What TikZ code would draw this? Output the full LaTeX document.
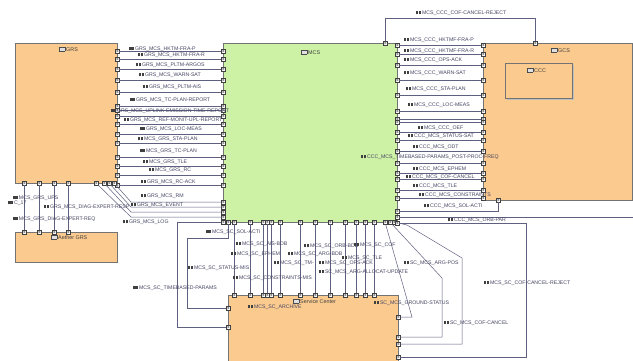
\documentclass[tikz,border=0pt]{standalone}
\usepackage{fontspec}
\setmainfont{Liberation Sans}
\definecolor{org}{RGB}{250,202,142}
\definecolor{grn}{RGB}{205,241,165}
\definecolor{cn}{RGB}{95,95,128}
\definecolor{lt}{RGB}{70,70,100}
\newcommand\ico{{\color{black!75}\rule{2.5pt}{3.6pt}\hspace{0.4pt}\rule{2.5pt}{3.6pt}}\hspace{1pt}}
\newcommand\tico{{\setlength\fboxsep{0pt}\setlength\fboxrule{0.4pt}\fcolorbox{black!70}{black!12}{\rule{0pt}{4.2pt}\hspace{5.5pt}}}\hspace{1.2pt}}
\tikzset{
  conn/.style={draw=cn, line width=0.5pt},
  port/.style={draw=black!75, fill=white, line width=0.35pt, minimum size=4.4pt, inner sep=0pt, outer sep=0pt,
    path picture={\draw[black!75, line width=0.3pt] ([xshift=1pt,yshift=0.9pt]path picture bounding box.south west) -- ([xshift=-1pt]path picture bounding box.east) -- ([xshift=1pt,yshift=-0.9pt]path picture bounding box.north west);}},
  lab/.style={font=\fontsize{5.2}{5.5}\selectfont, text=lt, inner sep=0.4pt, anchor=west},
  blk/.style={draw=black!55, line width=0.5pt},
  ttl/.style={font=\fontsize{5.4}{6}\selectfont, text=black!75, inner sep=0.5pt, anchor=west}
}
% horizontal connector with two ports: name, x1, x2, y
\newcommand\hc[4]{\node[port] (#1a) at (#2,#4) {};\node[port] (#1b) at (#3,#4) {};\draw[conn] (#1a) -- (#1b);}
% vertical connector: name, x, y1, y2
\newcommand\vc[4]{\node[port] (#1a) at (#2,#3) {};\node[port] (#1b) at (#2,#4) {};\draw[conn] (#1a) -- (#1b);}
\newcommand\lb[4]{\node[lab] (#1) at (#2,#3) {\ico #4};}
\begin{document}
\begin{tikzpicture}[x=1pt,y=-1pt]
\useasboundingbox[fill=white] (0,0) rectangle (633,360);
% blocks
\fill[org] (15,43) rectangle (117,183); \draw[blk] (15,43) rectangle (117,183);
\node[ttl] (tGRS) at (58,49) {\tico GRS};
\fill[org] (15,232) rectangle (117,262); \draw[blk] (15,232) rectangle (117,262);
\node[ttl] (tAGRS) at (50,237) {\tico Aether GRS};
\fill[grn] (223,43) rectangle (397,222); \draw[blk] (223,43) rectangle (397,222);
\node[ttl] (tMCS) at (300,52) {\tico MCS};
\fill[org] (483,43) rectangle (632,200); \draw[blk] (483,43) rectangle (632,200);
\node[ttl] (tGCS) at (550,50) {\tico GCS};
\fill[black!25] (507,65) rectangle (574,100);
\fill[org] (505,63) rectangle (572,98); \draw[blk] (505,63) rectangle (572,98);
\node[ttl] (tCCC) at (526,70) {\tico CCC};
\fill[org] (228,295) rectangle (398,361); \draw[blk] (228,361) -- (228,295) -- (398,295) -- (398,361);
\node[ttl] (tSC) at (292,301) {\tico Service Center};

% GRS -> MCS horizontal connectors
\foreach \n/\y in {g1/51,g2/59,g3/69,g4/80,g5/92,g6/106,g7/110,g8/116,g9/124,g10/134,g11/143,g12/157,g13/166,g14/175,g15/185}{
  \hc{\n}{117}{223}{\y}
}
% diagonal connectors from GRS bottom
\node[port] (d1a) at (114,183) {}; \node[port] (d1b) at (223,202) {};
\draw[conn] (d1a) -- (131,202) -- (d1b);
\node[port] (d2a) at (109,183) {}; \node[port] (d2b) at (223,207) {};
\draw[conn] (d2a) -- (131,207) -- (d2b);
\node[port] (d3a) at (104,183) {}; \node[port] (d3b) at (223,212) {};
\draw[conn] (d3a) -- (131,212) -- (d3b);
\node[port] (d4a) at (96,183) {}; \node[port] (d4b) at (223,217) {};
\draw[conn] (d4a) -- (131,217) -- (d4b);
% GRS -> Aether GRS
\foreach \n/\x in {a1/24,a2/39,a3/54,a4/68}{
  \vc{\n}{\x}{183}{232}
}
% MCS -> GCS horizontal connectors
\foreach \n/\y in {c1/45,c2/54,c3/65,c4/80,c5/95,c6/111,c7/119,c8/122,c9/132,c10/140,c11/151,c12/163,c13/173,c14/179,c15/190,c16/198}{
  \hc{\n}{397}{483}{\y}
}
\node[port] (s1a) at (397,211) {}; \node[port] (s1b) at (498,200) {};
\draw[conn] (s1a) -- (498,211) -- (s1b);
\coordinate (s2e) at (633,217);
\node[port] (s2a) at (397,217) {};
\draw[conn] (s2a) -- (s2e);
% top connector MCS -> GCS
\node[port] (tpa) at (385,43) {}; \node[port] (tpb) at (535,43) {};
\draw[conn] (tpa) -- (385,18) -- (535,18) -- (tpb);
% MCS -> Service Center verticals
\foreach \n/\x in {v1/234,v2/250,v3/263,v4/267,v5/271,v6/280,v7/300,v8/315,v9/330,v10/345,v11/356,v12/365,v13/374}{
  \vc{\n}{\x}{222}{295}
}
% left routes to Service Center
\node[port] (tba) at (223,222) {}; \node[port] (tbb) at (228,327) {};
\draw[conn] (tba) -- (177,222) -- (177,327) -- (tbb);
\node[port] (sma) at (228,222) {}; \node[port] (smb) at (228,308) {};
\draw[conn] (sma) -- (228,238) -- (187,238) -- (187,308) -- (smb);
% right routes to Service Center
\node[port] (r1a) at (385,222) {}; \node[port] (r1b) at (398,317) {};
\draw[conn] (r1a) -- (412,317) -- (r1b);
\node[port] (r2a) at (390,222) {}; \node[port] (r2b) at (398,337) {};
\draw[conn] (r2a) -- (442,278) -- (442,337) -- (r2b);
\node[port] (r3a) at (394,222) {}; \node[port] (r3b) at (398,344) {};
\draw[conn] (r3a) -- (407,225) -- (462,258) -- (462,344) -- (r3b);
\node[port] (r4a) at (397,223) {}; \node[port] (r4b) at (398,357) {};
\draw[conn] (r4a) -- (526,223) -- (526,357) -- (r4b);

% labels left
\lb{L1}{128}{49}{GRS\_MCS\_HKTM-FRA-P}
\lb{L2}{137}{55}{GRS\_MCS\_HKTM-FRA-R}
\lb{L3}{135}{65}{GRS\_MCS\_PLTM-ARGOS}
\lb{L4}{138}{75}{GRS\_MCS\_WARN-SAT}
\lb{L5}{142}{87}{GRS\_MCS\_PLTM-AIS}
\lb{L6}{129}{100}{GRS\_MCS\_TC-PLAN-REPORT}
\lb{L7}{110}{111}{GRS\_MCS\_UPLINK-EMISSION-TIME-REPORT}
\lb{L8}{123}{120}{GRS\_MCS\_REF-MONIT-UPL-REPORT}
\lb{L9}{139}{129}{GRS\_MCS\_LOC-MEAS}
\lb{L10}{137}{139}{MCS\_GRS\_STA-PLAN}
\lb{L11}{139}{151}{MCS\_GRS\_TC-PLAN}
\lb{L12}{142}{162}{MCS\_GRS\_TLE}
\lb{L13}{148}{170}{MCS\_GRS\_RC}
\lb{L14}{140}{182}{GRS\_MCS\_RC-ACK}
\lb{L15}{140}{196}{GRS\_MCS\_RM}
\lb{L16}{130}{205}{GRS\_MCS\_EVENT}
\lb{L17}{122}{222}{GRS\_MCS\_LOG}
\lb{A1}{12}{198}{MCS\_GRS\_UPS}
\lb{A2}{7}{203}{C\_17}
\lb{A3}{43}{207}{GRS\_MCS\_DIAG-EXPERT-RESP}
\lb{A4}{12}{219}{MCS\_GRS\_DIAG-EXPERT-REQ}
% labels right
\lb{R17}{415}{13}{MCS\_CCC\_COF-CANCEL-REJECT}
\lb{R1}{403}{40}{MCS\_CCC\_HKTMF-FRA-P}
\lb{R2}{403}{51}{MCS\_CCC\_HKTMF-FRA-R}
\lb{R3}{403}{60}{MCS\_CCC\_OPS-ACK}
\lb{R4}{403}{73}{MCS\_CCC\_WARN-SAT}
\lb{R5}{405}{89}{MCS\_CCC\_STA-PLAN}
\lb{R6}{407}{105}{MCS\_CCC\_LOC-MEAS}
\lb{R7}{417}{128}{MCS\_CCC\_OEF}
\lb{R8}{407}{136}{CCC\_MCS\_STATUS-SAT}
\lb{R9}{412}{147}{CCC\_MCS\_ODT}
\lb{R10}{360}{157}{CCC\_MCS\_TIMEBASED-PARAMS\_POST-PROC-FREQ}
\lb{R11}{412}{169}{CCC\_MCS\_EPHEM}
\lb{R12}{405}{177}{CCC\_MCS\_COF-CANCEL}
\lb{R13}{412}{186}{CCC\_MCS\_TLE}
\lb{R14}{418}{195}{CCC\_MCS\_CONSTRAINTS}
\lb{R15}{423}{206}{CCC\_MCS\_SOL-ACTI}
\lb{R16}{447}{220}{CCC\_MCS\_ORB-PAR}
% labels bottom
\lb{B1}{205}{232}{MCS\_SC\_SOL-ACTI}
\lb{B2}{235}{244}{MCS\_SC\_AIS-BDB}
\lb{B3}{230}{254}{MCS\_SC\_EPHEM}
\lb{B4}{187}{268}{MCS\_SC\_STATUS-MIS}
\lb{B5}{232}{278}{MCS\_SC\_CONSTRAINTS-MIS}
\lb{B6}{132}{288}{MCS\_SC\_TIMEBASED-PARAMS}
\lb{B7}{247}{307}{MCS\_SC\_ARCHIVE}
\lb{B8}{303}{246}{MCS\_SC\_ORB-BDB}
\lb{B9}{287}{254}{MCS\_SC\_ARG-BDB}
\lb{B10}{273}{263}{MCS\_SC\_TM-}
\lb{B11}{318}{263}{MCS\_SC\_OPS-ACK}
\lb{B12}{318}{272}{SC\_MCS\_ARG-ALLOCAT-UPDATE}
\lb{B13}{353}{245}{MCS\_SC\_COF}
\lb{B14}{341}{258}{MCS\_SC\_TLE}
\lb{B15}{403}{263}{SC\_MCS\_ARG-POS}
\lb{B16}{373}{303}{SC\_MCS\_GROUND-STATUS}
\lb{B17}{443}{323}{SC\_MCS\_COF-CANCEL}
\lb{B18}{483}{283}{MCS\_SC\_COF-CANCEL-REJECT}
\end{tikzpicture}
\end{document}
